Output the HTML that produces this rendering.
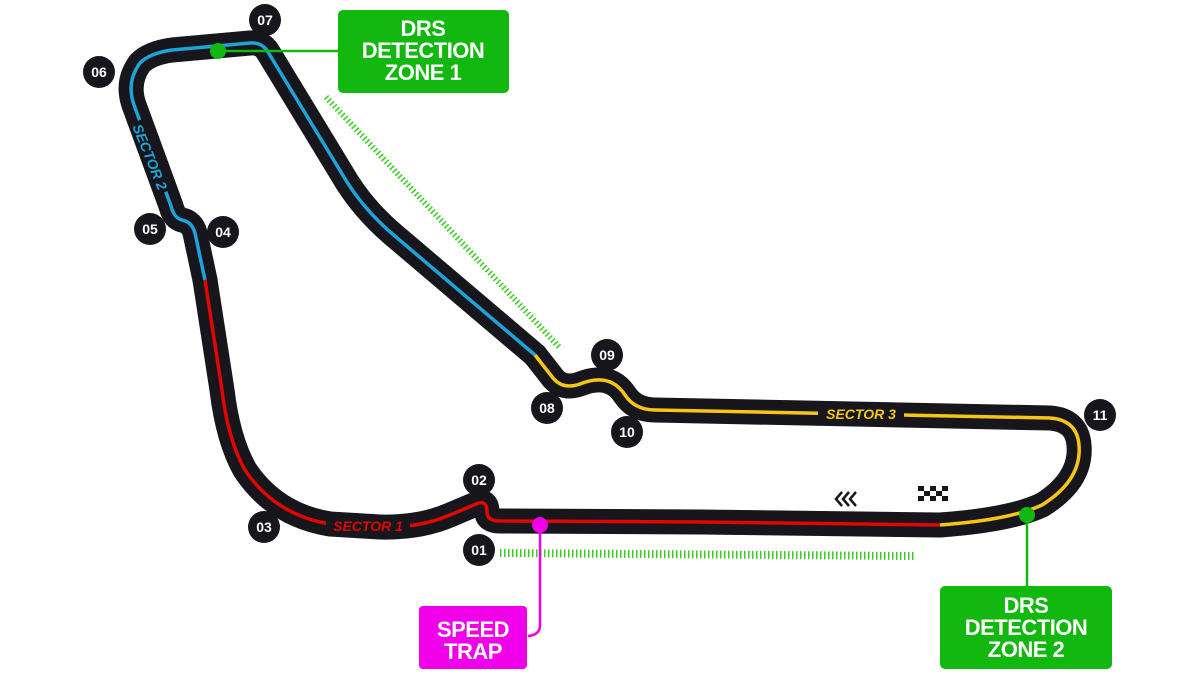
<!DOCTYPE html>
<html><head><meta charset="utf-8"><style>
html,body{margin:0;padding:0;background:#fff;}
svg{display:block}
.b{font-family:"Liberation Sans",sans-serif;font-weight:bold;}
</style></head><body>
<svg width="1200" height="675" viewBox="0 0 1200 675">
<defs>
<path id="s1" d="M 940 525 L 700 522 L 500 521 Q 487 521 487 512 Q 487 499 476 504 L 450 515 Q 420 528 380 527 L 330 524 Q 275 515 245 470 Q 228 440 222 390 L 205 280"/>
<path id="s2" d="M 205 280 L 195 233 Q 192 222 182 220 Q 174 218 171 206 L 134 105 Q 126 82 140 63 Q 150 53 172 50 L 250 43 Q 262 42 268 52 L 347 182 Q 366 212 396 237 L 535 355"/>
<path id="s3" d="M 535 355 L 553 378 Q 563 390 580 384 Q 610 372 625 395 Q 635 410 655 410 L 1050 418 Q 1077 420 1079 445 Q 1082 480 1042 505 Q 1010 520 940 525"/>
</defs>
<g fill="none" stroke="#16161c" stroke-width="25" stroke-linejoin="round" stroke-linecap="round">
<use href="#s1"/><use href="#s2"/><use href="#s3"/>
</g>
<use href="#s1" fill="none" stroke="#e10600" stroke-width="3.5" stroke-linejoin="round"/>
<use href="#s2" fill="none" stroke="#1fa3d8" stroke-width="3.5" stroke-linejoin="round"/>
<use href="#s3" fill="none" stroke="#f5c518" stroke-width="3.5" stroke-linejoin="round"/>
<line x1="326" y1="97" x2="560" y2="348" stroke="#39cc22" stroke-width="6" stroke-dasharray="1.5 2.5"/>
<line x1="500" y1="553" x2="914" y2="556" stroke="#39cc22" stroke-width="8" stroke-dasharray="1.5 2.5"/>
<rect x="326" y="517" width="84" height="16" fill="#16161c"/>
<text x="368" y="531" class="b" font-size="14" fill="#e10600" text-anchor="middle" font-style="italic">SECTOR 1</text>
<rect x="818" y="405" width="86" height="16" fill="#16161c"/>
<text x="861" y="419" class="b" font-size="14" fill="#f5c518" text-anchor="middle" font-style="italic">SECTOR 3</text>
<g transform="translate(150,157) rotate(68)">
<rect x="-38" y="-8" width="76" height="16" fill="#16161c"/>
<text x="0" y="5" class="b" font-size="14" fill="#1fa3d8" text-anchor="middle" font-style="italic">SECTOR 2</text>
</g>
<g fill="none" stroke="#16161c" stroke-width="2.5">
<polyline points="842,492 836,499 842,506"/>
<polyline points="849,492 843,499 849,506"/>
<polyline points="856,492 850,499 856,506"/>
</g>
<g fill="#16161c">
<rect x="918" y="486" width="6" height="5"/><rect x="930" y="486" width="6" height="5"/><rect x="942" y="486" width="6" height="5"/>
<rect x="924" y="491" width="6" height="5"/><rect x="936" y="491" width="6" height="5"/>
<rect x="918" y="496" width="6" height="5"/><rect x="930" y="496" width="6" height="5"/><rect x="942" y="496" width="6" height="5"/>
</g>
<line x1="218" y1="51" x2="340" y2="51" stroke="#12b80f" stroke-width="2.5"/>
<circle cx="218" cy="51" r="8" fill="#12b80f"/>
<path d="M540 525 L540 625 Q540 635 528 636" fill="none" stroke="#f000e8" stroke-width="2.5"/>
<circle cx="540" cy="525" r="8" fill="#f000e8"/>
<line x1="1027" y1="515" x2="1027" y2="588" stroke="#12b80f" stroke-width="2.5"/>
<circle cx="1027" cy="515" r="8" fill="#12b80f"/>
<rect x="338" y="10" width="171" height="83" rx="5" fill="#12b80f"/>
<text class="b" font-size="22" fill="#fff" text-anchor="middle" letter-spacing="-0.5"><tspan x="423" y="36">DRS</tspan><tspan x="423" y="58">DETECTION</tspan><tspan x="423" y="80">ZONE 1</tspan></text>
<rect x="419" y="606" width="108" height="63" rx="4" fill="#f000e8"/>
<text class="b" font-size="22" fill="#fff" text-anchor="middle" letter-spacing="-0.5"><tspan x="473" y="637">SPEED</tspan><tspan x="473" y="659">TRAP</tspan></text>
<rect x="940" y="586" width="172" height="83" rx="5" fill="#12b80f"/>
<text class="b" font-size="22" fill="#fff" text-anchor="middle" letter-spacing="-0.5"><tspan x="1026" y="613">DRS</tspan><tspan x="1026" y="635">DETECTION</tspan><tspan x="1026" y="657">ZONE 2</tspan></text>
<g class="b" font-size="14" fill="#fff" text-anchor="middle">
<circle cx="479" cy="480" r="16" fill="#16161c"/><text x="479" y="485">02</text>
<circle cx="479" cy="550" r="16" fill="#16161c"/><text x="479" y="555">01</text>
<circle cx="264" cy="527" r="16" fill="#16161c"/><text x="264" y="532">03</text>
<circle cx="223" cy="232" r="16" fill="#16161c"/><text x="223" y="237">04</text>
<circle cx="150" cy="229" r="16" fill="#16161c"/><text x="150" y="234">05</text>
<circle cx="99" cy="72" r="16" fill="#16161c"/><text x="99" y="77">06</text>
<circle cx="265" cy="20" r="16" fill="#16161c"/><text x="265" y="25">07</text>
<circle cx="547" cy="408" r="16" fill="#16161c"/><text x="547" y="413">08</text>
<circle cx="607" cy="355" r="16" fill="#16161c"/><text x="607" y="360">09</text>
<circle cx="627" cy="432" r="16" fill="#16161c"/><text x="627" y="437">10</text>
<circle cx="1100" cy="415" r="16" fill="#16161c"/><text x="1100" y="420">11</text>
</g>
</svg>
</body></html>
